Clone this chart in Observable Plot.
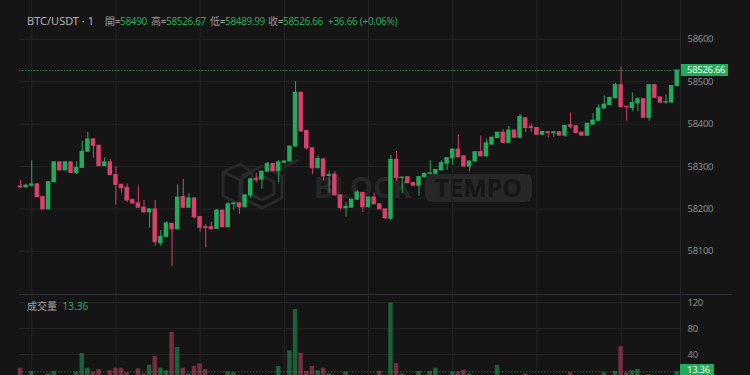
<!DOCTYPE html>
<html><head><meta charset="utf-8">
<script src="https://cdn.jsdelivr.net/npm/d3@7"></script>
<script src="https://cdn.jsdelivr.net/npm/@observablehq/plot@0.6"></script>
<style>
html,body{margin:0;padding:0;background:#151515;overflow:hidden;}
#wrap{position:relative;width:750px;height:375px;overflow:hidden;background:#151515;font-family:"Noto Sans","Noto Sans CJK TC",sans-serif;}
.abs{position:absolute;white-space:nowrap;line-height:14px;}
#wrap svg{position:absolute;left:0;}
</style></head><body><div id="wrap"></div>
<script>
const openP = [58253,58251,58255,58258,58228,58199,58263,58310,58291,58310,
58285,58297,58335,58364,58349,58301,58310,58280,58257,58250,
58221,58213,58203,58192,58199,58119,58134,58165,58152,58228,
58203,58225,58181,58157,58157,58153,58196,58157,58211,58213,
58204,58232,58271,58269,58288,58306,58289,58309,58312,58347,
58474,58384,58343,58296,58317,58278,58281,58232,58202,58203,
58222,58238,58204,58227,58211,58199,58177,58316,58273,58275,
58261,58255,58275,58283,58283,58291,58307,58320,58340,58324,
58300,58312,58334,58324,58352,58367,58380,58356,58385,58368,
58414,58393,58391,58375,58381,58379,58381,58373,58397,58395,
58380,58373,58399,58408,58437,58445,58461,58492,58441,58438,
58449,58459,58415,58492,58463,58451,58451,58490];
const highP = [58267,58259,58314,58259,58229,58264,58312,58311,58311,58311,
58312,58360,58381,58365,58350,58321,58317,58300,58258,58259,
58222,58254,58220,58200,58220,58149,58169,58166,58257,58270,
58236,58226,58182,58163,58169,58199,58197,58216,58214,58214,
58233,58271,58284,58289,58310,58307,58314,58313,58348,58500,
58475,58385,58344,58325,58318,58288,58288,58233,58215,58223,
58244,58239,58228,58238,58212,58200,58326,58336,58275,58276,
58262,58276,58284,58314,58293,58314,58321,58341,58375,58325,
58313,58335,58372,58365,58369,58381,58387,58395,58386,58423,
58415,58401,58392,58383,58382,58382,58382,58397,58427,58396,
58381,58402,58425,58446,58467,58463,58496,58535,58442,58474,
58463,58460,58493,58493,58464,58469,58491,58526.67];
const lowP = [58249,58250,58252,58227,58198,58198,58262,58290,58290,58284,
58281,58296,58334,58320,58300,58300,58279,58209,58237,58215,
58212,58202,58191,58155,58112,58112,58133,58065,58151,58202,
58202,58177,58145,58108,58151,58152,58156,58156,58197,58187,
58203,58225,58261,58246,58287,58288,58262,58308,58311,58346,
58380,58339,58281,58295,58266,58237,58231,58199,58181,58202,
58221,58192,58203,58210,58198,58175,58173,58265,58236,58260,
58254,58230,58274,58282,58282,58290,58291,58303,58321,58299,
58288,58311,58323,58323,58351,58366,58355,58355,58367,58367,
58380,58380,58374,58374,58367,58369,58372,58369,58389,58378,
58372,58372,58398,58407,58436,58444,58460,58439,58407,58430,
58430,58414,58407,58461,58448,58447,58450,58489.99];
const closeP = [58251,58255,58258,58228,58199,58263,58310,58291,58310,58285,
58297,58335,58364,58349,58301,58310,58280,58257,58249,58220,
58213,58203,58192,58199,58122,58134,58166,58152,58227,58203,
58225,58181,58156,58155,58152,58196,58157,58211,58213,58204,
58232,58270,58269,58288,58306,58289,58310,58312,58347,58474,
58383,58343,58296,58318,58277,58280,58232,58202,58205,58222,
58239,58204,58227,58211,58199,58178,58316,58273,58274,58261,
58255,58275,58283,58284,58292,58308,58320,58340,58322,58300,
58312,58334,58324,58355,58368,58380,58356,58385,58368,58417,
58391,58391,58375,58382,58379,58381,58373,58396,58394,58379,
58373,58401,58408,58437,58446,58462,58492,58440,58440,58450,
58459,58415,58492,58462,58451,58452,58490,58526.66];
const volumeV = [19,5,14,6,5,10,14,5,4,5,
13,41.5,19,13,17,8,15,19,19,12,
6,18,10,23.5,37,19,15,74,51,19,
10,22,25.6,17,8,6,5,13,12,8,
6,8,4,6,5,4,21.5,5,45.6,109,
42,14,21.5,15,19,10,8,6,13,5,
4,7,5,6,14,8,119,26,10,5,
4,14,5,14,19,6,5,13,13,16,
10,6,5,6,5,23,5,6,4,6,
10,4,5,3,4,3,4,6,12,5,
4,6,8,6,12,6,14,52,12,15,
17,6,9,5,4,5,6,13.36];
const priceTicks = [58100,58200,58300,58400,58500,58600];
const volumeTicks = [40,80,120];
const symbolText = "BTC/USDT · 1";
const ohlcLabels = ["開","高","低","收"];
const volumeTitle = "成交量";

const UP = "#22ab5b", DOWN = "#d6426b", GRID = "#242424", AXIS = "#8c8c8c";
const n = openP.length, last = n - 1;
const data = openP.map((o, i) => ({i, open: o, high: highP[i], low: lowP[i], close: closeP[i], volume: volumeV[i], up: closeP[i] >= o}));
const gridIdx = d3.range(2, n, 15);
const xDomain = [-0.178, n - 0.24];
const styleAxis = {background: "transparent", color: AXIS, fontFamily: "'Noto Sans', sans-serif", fontSize: "9.5px", letterSpacing: "-0.3px", overflow: "visible"};
const col = d => d.up ? UP : DOWN;

const price = Plot.plot({
  width: 750, height: 294, marginLeft: 19, marginRight: 69, marginTop: 0, marginBottom: 0,
  style: styleAxis,
  x: {domain: xDomain, axis: null},
  y: {domain: [57998.3, 58691.7], axis: null},
  marks: [
    Plot.gridX(gridIdx, {stroke: GRID, strokeOpacity: 1}),
    Plot.gridY(priceTicks, {stroke: GRID, strokeOpacity: 1}),
    Plot.axisY(priceTicks, {anchor: "right", label: null, tickSize: 0, tickPadding: 6, tickFormat: d => String(d), fill: AXIS}),
    Plot.ruleX(data, {x: "i", y1: "low", y2: "high", stroke: col, strokeWidth: 1}),
    Plot.rect(data, {x1: d => d.i - 0.4, x2: d => d.i + 0.4, y1: "open", y2: "close", fill: col, insetTop: -0.5, insetBottom: -0.5}),
    Plot.ruleY([closeP[last]], {stroke: UP, strokeOpacity: 0.75, strokeDasharray: "1.5,1.5"})
  ]
});

const vol = Plot.plot({
  width: 750, height: 86, marginLeft: 19, marginRight: 69, marginTop: 0, marginBottom: 0,
  style: styleAxis,
  x: {domain: xDomain, axis: null},
  y: {domain: [0, 132.3], axis: null},
  marks: [
    Plot.gridX(gridIdx, {stroke: GRID, strokeOpacity: 1}),
    Plot.gridY(volumeTicks, {stroke: GRID, strokeOpacity: 1}),
    Plot.axisY(volumeTicks, {anchor: "right", label: null, tickSize: 0, tickPadding: 6, fill: AXIS}),
    Plot.rect(data, {x1: d => d.i - 0.4, x2: d => d.i + 0.4, y1: 0, y2: "volume", fill: col, fillOpacity: 0.5}),
    Plot.ruleY([volumeV[last]], {stroke: UP, strokeOpacity: 0.6, strokeDasharray: "1.5,1.5"})
  ]
});

const wrap = document.getElementById("wrap");
const VOL_TOP = 294;

// watermark (behind)
const wm = document.createElement("div");
wm.className = "abs";
wm.style.cssText = "left:0;top:0;width:750px;height:375px;";
wm.innerHTML = `
<svg width="750" height="375" style="position:absolute;left:0;top:0">
  <g fill="none" stroke="#292929" stroke-width="3" stroke-linejoin="round">
    <path d="M223 172 L240 164 L252 172 L240 180 Z M223 172 L223 196 L240 204 L240 180 M252 172 L252 190"/>
    <path d="M262 166 L282 176 L282 198 L262 208 L242 198 L242 176 Z"/>
    <path d="M262 176 L274 182 L274 194 L262 200 L250 194 L250 182 Z"/>
    <path d="M278 170 L298 160"/>
  </g>
  <text x="314" y="198" font-family="Noto Sans, sans-serif" font-weight="700" font-size="29" fill="#262626" letter-spacing="0.5">BLOCK</text>
  <rect x="425" y="174" width="107" height="28" rx="7" fill="#272727"/>
  <text x="478.5" y="197" text-anchor="middle" font-family="Noto Sans, sans-serif" font-weight="700" font-size="25" fill="#161616">TEMPO</text>
</svg>`;
wrap.appendChild(wm);

price.style.top = "0px";
wrap.appendChild(price);
vol.style.top = VOL_TOP + "px";
wrap.appendChild(vol);

function addDiv(css, html) {
  const d = document.createElement("div");
  d.className = "abs";
  d.style.cssText = css;
  d.innerHTML = html;
  wrap.appendChild(d);
  return d;
}

// panel separators
addDiv(`left:680px;top:0;width:1px;height:375px;background:#262633;`, "");
addDiv(`left:19px;top:${VOL_TOP - 0.5}px;width:713px;height:1px;background:#2c2c33;`, "");

// header
const o = openP[last], h = highP[last], l = lowP[last], c = closeP[last], prev = closeP[last - 1];
const chg = c - prev, pct = chg / prev * 100;
const sign = v => (v >= 0 ? "+" : "");
addDiv(`left:27px;top:14px;font-size:11px;color:#b3b3b3;`, symbolText);
const vals = [String(o), h.toFixed(2), l.toFixed(2), c.toFixed(2)];
const xs = [105, 151, 210, 268];
ohlcLabels.forEach((lab, k) => {
  addDiv(`left:${xs[k]}px;top:14px;font-size:10px;letter-spacing:-0.35px;color:#9b9b9b;`,
    `${lab}=<span style="color:${UP}">${vals[k]}</span>`);
});
addDiv(`left:328px;top:14px;font-size:10px;letter-spacing:-0.3px;color:${UP};`,
  `${sign(chg)}${chg.toFixed(2)} (${sign(pct)}${pct.toFixed(2)}%)`);

// volume title
addDiv(`left:27px;top:${VOL_TOP + 5}px;font-size:10px;color:#a3a3a3;`,
  `${volumeTitle} <span style="color:${UP};margin-left:3px">${volumeV[last]}</span>`);

// last value badges
const py = price.scale("y").apply(c);
addDiv(`left:681px;top:${py - 6}px;width:47px;height:12px;line-height:12px;background:${UP};color:#eafff1;font-size:9.5px;letter-spacing:-0.3px;padding-left:6px;box-sizing:border-box;`, c.toFixed(2));
const vy = vol.scale("y").apply(volumeV[last]) + VOL_TOP;
addDiv(`left:680px;top:${Math.min(vy - 6, 364)}px;width:34px;height:11px;line-height:11px;background:${UP};color:#eafff1;font-size:9.5px;letter-spacing:-0.3px;padding-left:7px;box-sizing:border-box;`, String(volumeV[last]));
</script></body></html>
